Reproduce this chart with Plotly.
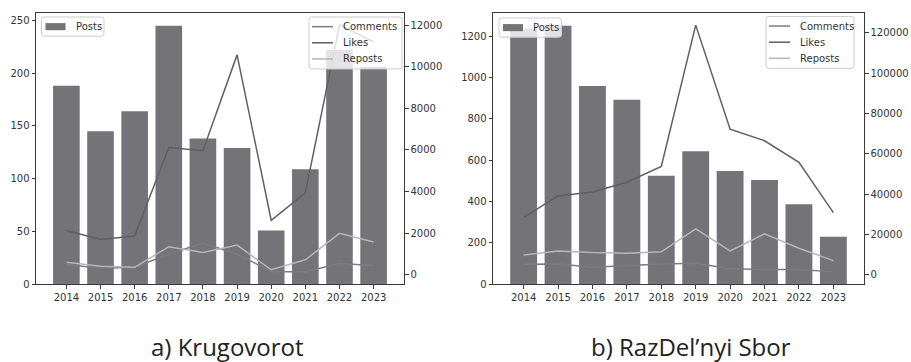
import plotly.graph_objects as go

# Yearly activity of two communities: posts (bars) plus engagement totals (lines)
years = [2014, 2015, 2016, 2017, 2018, 2019, 2020, 2021, 2022, 2023]

posts_krug = [188, 145, 164, 245, 138, 129, 51, 109, 222, 206]
comments_krug = [500, 310, 360, 990, 1530, 990, 160, 140, 550, 440]
likes_krug = [2130, 1700, 1860, 6120, 5960, 10570, 2620, 3940, 12000, 11200]
reposts_krug = [600, 410, 360, 1350, 1070, 1430, 240, 720, 1990, 1580]

posts_raz = [1235, 1250, 958, 892, 524, 643, 548, 504, 387, 229]
comments_raz = [5160, 5360, 3700, 4530, 5360, 5650, 2920, 2580, 2580, 1400]
likes_raz = [28400, 39100, 41060, 45900, 53700, 123900, 72200, 66500, 55800, 30800]
reposts_raz = [9740, 11800, 11000, 10700, 11350, 22700, 11800, 20300, 13150, 6970]

captions = ["a) Krugovorot", "b) RazDel\u2019nyi Sbor"]

W, H = 911, 362
BAR_C = "#747478"
SERIES_COLORS = {"Comments": "#7c7c7c", "Likes": "#606060", "Reposts": "#b6b6b6"}
AXIS_C = "#3a3a3a"
TEXT_C = "#333333"
FONT = "DejaVu Sans"


def px_x(v):
    return v / W


def px_y(v):
    return 1 - v / H


def auto_range(values, pad=0.05, zero_floor=False):
    lo, hi = min(values), max(values)
    if zero_floor:
        return [0, hi * (1 + pad)]
    span = hi - lo
    return [lo - pad * span, hi + pad * span]


fig = go.Figure()

panels = [
    dict(posts=posts_krug, comments=comments_krug, likes=likes_krug, reposts=reposts_krug,
         x0=36, x1=404, xa="x", ya="y", ya2="y2", ydtick=50, y2dtick=2000,
         bar_leg=(41.5, 17.3), line_leg=(309, 402, 17.3)),
    dict(posts=posts_raz, comments=comments_raz, likes=likes_raz, reposts=reposts_raz,
         x0=493, x1=864, xa="x2", ya="y3", ya2="y4", ydtick=200, y2dtick=20000,
         bar_leg=(499, 18.3), line_leg=(766, 854, 16.7)),
]

top_px, bottom_px = 13, 289
ydom = [px_y(bottom_px), px_y(top_px)]

shapes = []
annotations = []


def legend_box(x0, y0, x1, y1, r=2.5):
    """Rounded, semi-transparent legend frame (pixel coords -> paper)."""
    path = (
        f"M{px_x(x0 + r)},{px_y(y0)} L{px_x(x1 - r)},{px_y(y0)} "
        f"Q{px_x(x1)},{px_y(y0)} {px_x(x1)},{px_y(y0 + r)} "
        f"L{px_x(x1)},{px_y(y1 - r)} Q{px_x(x1)},{px_y(y1)} {px_x(x1 - r)},{px_y(y1)} "
        f"L{px_x(x0 + r)},{px_y(y1)} Q{px_x(x0)},{px_y(y1)} {px_x(x0)},{px_y(y1 - r)} "
        f"L{px_x(x0)},{px_y(y0 + r)} Q{px_x(x0)},{px_y(y0)} {px_x(x0 + r)},{px_y(y0)} Z"
    )
    shapes.append(dict(type="path", xref="paper", yref="paper", path=path, layer="above",
                       fillcolor="rgba(255,255,255,0.8)", line=dict(color="#cccccc", width=1)))


def legend_label(text, x, y):
    annotations.append(dict(text=text, xref="paper", yref="paper", x=px_x(x), y=px_y(y),
                            xanchor="left", yanchor="middle", showarrow=False, borderpad=0,
                            font=dict(family=FONT, size=10, color=TEXT_C)))


for p in panels:
    fig.add_trace(go.Bar(
        x=years, y=p["posts"], name="Posts", width=0.78, showlegend=False,
        marker=dict(color=BAR_C, line=dict(width=0)),
        xaxis=p["xa"], yaxis=p["ya"],
    ))
    series = [("Comments", p["comments"]), ("Likes", p["likes"]), ("Reposts", p["reposts"])]
    for name, vals in series:
        fig.add_trace(go.Scatter(
            x=years, y=vals, name=name, mode="lines", showlegend=False,
            line=dict(color=SERIES_COLORS[name], width=1.5),
            xaxis=p["xa"], yaxis=p["ya2"],
        ))

    xkey = "xaxis" if p["xa"] == "x" else "xaxis2"
    ykey = "yaxis" if p["ya"] == "y" else "yaxis3"
    y2key = "yaxis2" if p["ya2"] == "y2" else "yaxis4"
    line_vals = p["comments"] + p["likes"] + p["reposts"]

    fig.update_layout(**{
        xkey: dict(domain=[px_x(p["x0"]), px_x(p["x1"])], anchor=p["ya"],
                   range=[years[0] - 0.89, years[-1] + 0.89],
                   tickvals=years, ticks="outside", ticklen=3.5, tickwidth=0.8,
                   tickcolor=AXIS_C, showline=True, linecolor=AXIS_C, linewidth=0.8,
                   mirror=True, showgrid=False, zeroline=False),
        ykey: dict(domain=ydom, anchor=p["xa"], range=auto_range(p["posts"], zero_floor=True),
                   dtick=p["ydtick"], tick0=0, ticks="outside", ticklen=3.5, tickwidth=0.8,
                   tickcolor=AXIS_C, showline=True, linecolor=AXIS_C, linewidth=0.8,
                   mirror=True, showgrid=False, zeroline=False, tickformat="d"),
        y2key: dict(overlaying=p["ya"], side="right", anchor=p["xa"],
                    range=auto_range(line_vals), dtick=p["y2dtick"], tick0=0,
                    ticks="outside", ticklen=3.5, tickwidth=0.8, tickcolor=AXIS_C,
                    showline=False, showgrid=False, zeroline=False, tickformat="d"),
    })

    # "Posts" legend (upper left)
    bx, by = p["bar_leg"]
    legend_box(bx, by, bx + 62.5, by + 19.5)
    shapes.append(dict(type="rect", xref="paper", yref="paper", layer="above",
                       x0=px_x(bx + 4), x1=px_x(bx + 24),
                       y0=px_y(by + 6.2), y1=px_y(by + 13.4),
                       fillcolor=BAR_C, line=dict(width=0)))
    legend_label("Posts", bx + 33, by + 9.8)

    # Engagement legend (upper right)
    lx0, lx1, ly = p["line_leg"]
    legend_box(lx0, ly, lx1, ly + 52.8)
    for k, (name, _) in enumerate(series):
        yy = ly + 9.8 + k * 16.4
        shapes.append(dict(type="line", xref="paper", yref="paper", layer="above",
                           x0=px_x(lx0 + 3), x1=px_x(lx0 + 24), y0=px_y(yy), y1=px_y(yy),
                           line=dict(color=SERIES_COLORS[name], width=1.5)))
        legend_label(name, lx0 + 33, yy)

caption_centers_px = [227, 691]
for txt, xc in zip(captions, caption_centers_px):
    annotations.append(dict(
        text=txt, xref="paper", yref="paper", x=px_x(xc), y=px_y(352),
        xanchor="center", yanchor="middle", showarrow=False,
        font=dict(family="Open Sans", size=24, color="#222222"),
    ))

fig.update_layout(
    width=W, height=H,
    margin=dict(l=0, r=0, t=0, b=0),
    paper_bgcolor="white", plot_bgcolor="white",
    font=dict(family=FONT, size=10, color=TEXT_C),
    showlegend=False,
    shapes=shapes,
    annotations=annotations,
)

fig.write_html("out.html")
